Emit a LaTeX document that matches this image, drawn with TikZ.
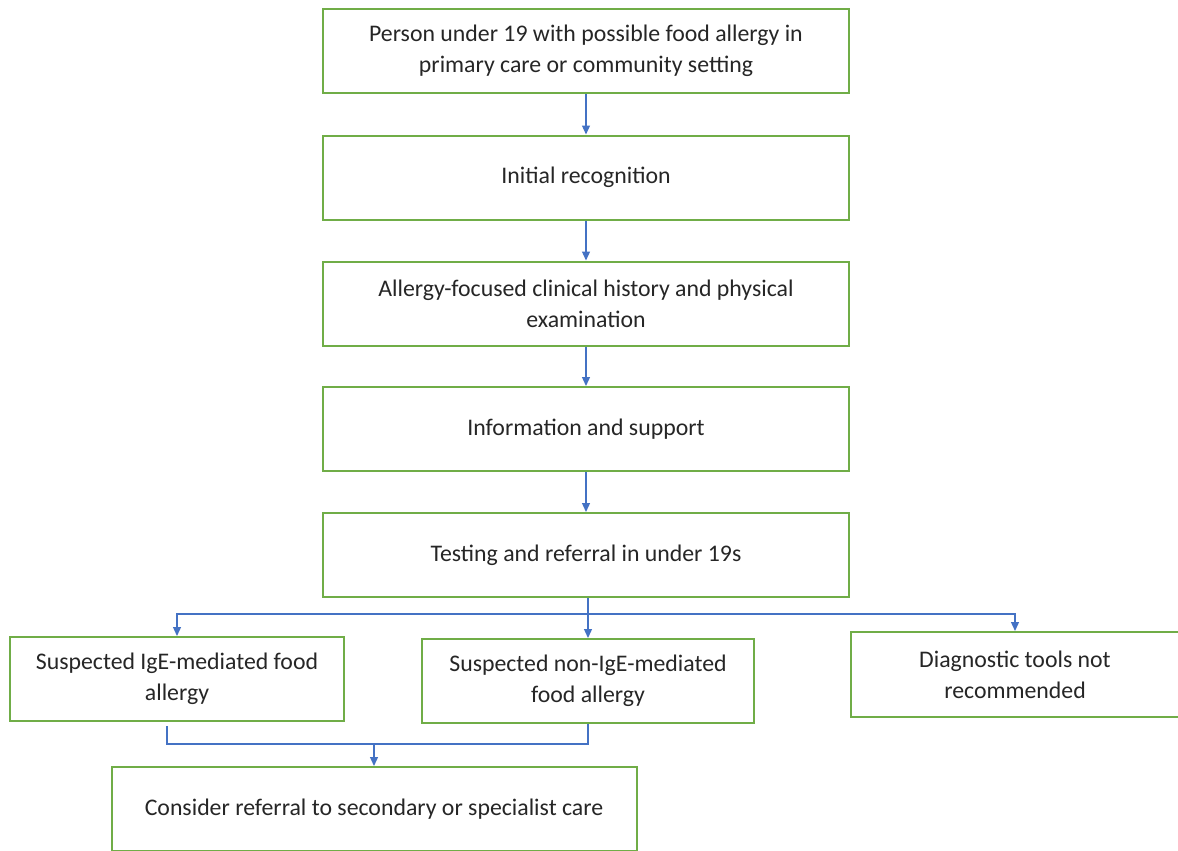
\documentclass[tikz,border=0pt]{standalone}
\usepackage{fontspec}
\setmainfont{Carlito}
\usepackage{xcolor}
\usepackage{tikz}
\usetikzlibrary{arrows.meta}
\definecolor{boxgreen}{HTML}{70AD47}
\definecolor{linkblue}{HTML}{4472C4}
\definecolor{ink}{HTML}{262626}
\tikzset{
  stage/.style={draw=boxgreen, line width=2pt, fill=white, text=ink, align=center,
    minimum width=526pt, minimum height=84pt, inner sep=0pt,
    font=\fontsize{23.8}{31}\selectfont},
  link/.style={draw=linkblue, line width=1.3pt, -{Triangle[length=9pt,width=8pt]}},
  plain/.style={draw=linkblue, line width=1.3pt}
}
\begin{document}
\begin{tikzpicture}[x=1pt,y=-1pt]%
\useasboundingbox (0,0) rectangle (1178,851);%
% main column
\node[stage] (person) at (586,51) {Person under 19 with possible food allergy in\\primary care or community setting};%
\node[stage] (recog) at (586,177.5) {Initial recognition};%
\node[stage] (history) at (586,303.5) {Allergy-focused clinical history and physical\\examination};%
\node[stage] (info) at (586,429) {Information and support};%
\node[stage] (testing) at (586,555) {Testing and referral in under 19s};%
% branches
\node[stage, minimum width=334pt] (ige) at (177,679) {Suspected IgE-mediated food\\allergy};%
\node[stage, minimum width=332pt] (nonige) at (588,681) {Suspected non-IgE-mediated\\food allergy};%
\node[stage, minimum width=329pt, minimum height=85pt] (tools) at (1015,674.5) {Diagnostic tools not\\recommended};%
\node[stage, minimum width=525pt] (refer) at (374,809) {Consider referral to secondary or specialist care};%
\coordinate (split) at (588,614);%
\coordinate (igeout) at (167,726);%
\coordinate (join) at (374,744);%
% connectors
\draw[link] (person) -- (recog);%
\draw[link] (recog) -- (history);%
\draw[link] (history) -- (info);%
\draw[link] (info) -- (testing);%
\draw[plain] (testing.south -| split) -- (split);%
\draw[link] (split) -| (ige.north);%
\draw[link] (split) -- (nonige.north);%
\draw[link] (split) -| (tools.north);%
\draw[plain] (igeout) |- (join);%
\draw[plain] (nonige.south) |- (join);%
\draw[link] (join) -- (refer.north);%
\end{tikzpicture}
\end{document}
